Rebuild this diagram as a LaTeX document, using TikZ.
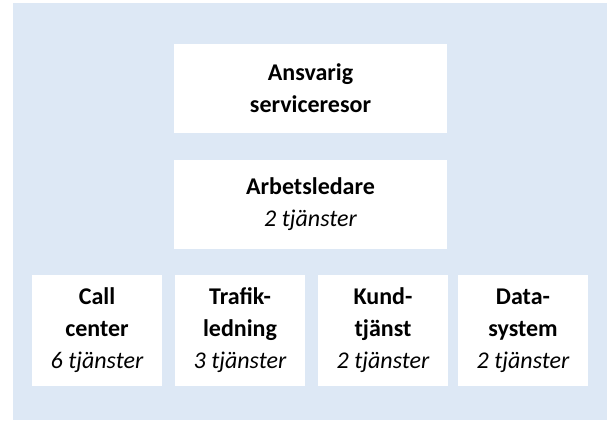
\documentclass[tikz,border=0pt]{standalone}
\usepackage{fontspec}
\setmainfont{Carlito}
\usepackage{xcolor}
\usepackage{tikz}
\usetikzlibrary{positioning}
\definecolor{OrgBlueBg}{RGB}{221,232,245}

\begin{document}
\begin{tikzpicture}[
x=1pt,
y=-1pt,
unit/.style={
fill=white,
inner sep=0pt,
align=center,
font=\fontsize{24}{32}\selectfont\bfseries
},
wide/.style={
unit,
minimum width=273pt,
minimum height=89pt
},
small/.style={
unit,
minimum width=130pt,
minimum height=111pt
}
]

\useasboundingbox (0,0) rectangle (607,420);
\fill[OrgBlueBg] (13,3) rectangle (607,420);

\node[wide] (ansvarig) at (310.5,88.5) {Ansvarig\\serviceresor};
\node[wide] (arbetsledare) at (310.5,204) {Arbetsledare\\{\mdseries\itshape 2 tjänster}};

\node[small] (callcenter) at (97,330.5) {Call\\center\\{\mdseries\itshape 6 tjänster}};
\node[small] (trafik) at (240,330.5) {Trafik-\\ledning\\{\mdseries\itshape 3 tjänster}};
\node[small] (kund) at (383,330.5) {Kund-\\tjänst\\{\mdseries\itshape 2 tjänster}};
\node[small] (data) at (523,330.5) {Data-\\system\\{\mdseries\itshape 2 tjänster}};
\end{tikzpicture}
\end{document}
